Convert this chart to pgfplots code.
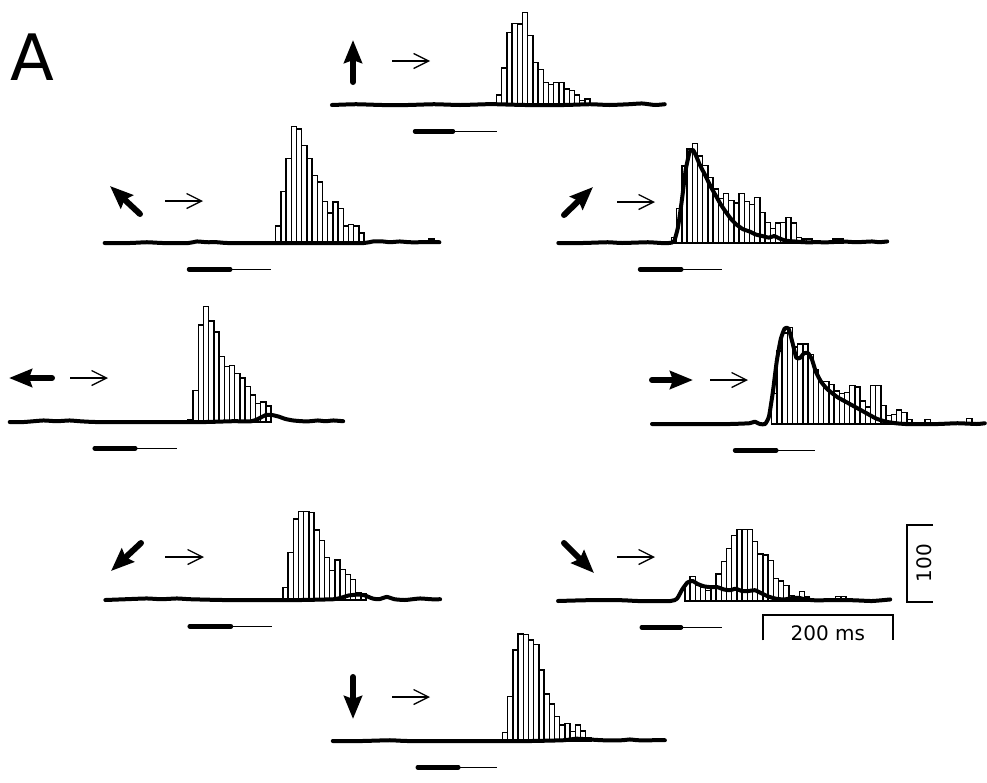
\documentclass[border=0pt]{standalone}
\usepackage{pgfplots}
\pgfplotsset{compat=1.18}
\usepackage{fontspec}
\setmainfont{DejaVu Sans}
\usetikzlibrary{arrows.meta}
\pgfplotsset{
  panel/.style={
    x=0.65pt, y=0.77pt,
    xmin=0, xmax=512, ymin=0, ymax=160,
    enlargelimits=false,
    hide axis, clip=false,
    anchor=south west,
  },
  bars/.style={ybar interval, fill=white, draw=black, line width=1.4pt},
  trace/.style={black, line width=4pt, line join=round, line cap=round, smooth, tension=0.3, no markers},
  stimA/.style={black, line width=4.8pt, line cap=round, no markers},
  stimB/.style={black, line width=1.3pt, no markers},
}
\tikzset{
  dirarrow/.style={line width=6pt, line cap=round, -{Stealth[length=23pt,width=18pt,inset=3pt]}},
  motarrow/.style={line width=1.3pt, -{Straight Barb[length=15pt,width=15pt,line width=1.3pt]}},
}
\begin{document}
\begin{tikzpicture}
\useasboundingbox (0,0) rectangle (987pt,-782pt);

% ---------- Panel 1 (up) ----------
\begin{axis}[panel, at={(330pt,-105pt)}]
\addplot[bars] coordinates {(256,13)(264,48)(272,94)(280,106)(288,105)(296,120)(304,90)(312,55)(320,46)(328,29)(336,27)(344,29)(352,29)(360,21)(368,19)(376,13)(384,6)(392,8)(400,0)};
\addplot[trace] coordinates {(3,0)(40,1)(80,0)(120,0)(160,1)(200,0)(240,1)(256,1)(300,0)(360,0)(400,1)(430,0)(460,1)(480,2)(500,0)(515,1)};
\addplot[stimA] coordinates {(131,-34)(189,-34)};
\addplot[stimB] coordinates {(189,-34)(257,-34)};
\end{axis}

% ---------- Panel 2 (up-left) ----------
\begin{axis}[panel, at={(104pt,-243pt)}]
\addplot[bars] coordinates {(264,22)(272,67)(280,110)(288,151)(296,148)(304,127)(312,110)(320,88)(328,79)(336,54)(344,39)(352,53)(360,45)(368,22)(376,24)(384,22)(392,13)(400,0)};
\addplot[bars] coordinates {(500,5)(508,0)};
\addplot[trace] coordinates {(1,0)(40,0)(66,1)(90,0)(130,0)(143,2)(158,1)(174,1)(190,0)(250,0)(300,0)(350,0)(400,0)(414,2)(429,2)(440,1)(455,2)(470,1)(490,1)(516,1)};
\addplot[stimA] coordinates {(131,-34)(194,-34)};
\addplot[stimB] coordinates {(194,-34)(257,-34)};
\end{axis}

% ---------- Panel 3 (up-right) ----------
\begin{axis}[panel, at={(557pt,-243pt)}]
\addplot[bars] coordinates {(176,7)(184,45)(192,100)(200,122)(208,129)(216,113)(224,101)(232,85)(240,70)(248,58)(256,64)(264,55)(272,52)(280,64)(288,54)(296,50)(304,59)(312,40)(320,27)(328,19)(336,26)(344,27)(352,33)(360,26)(368,7)(376,5)(384,5)(392,0)};
\addplot[bars] coordinates {(424,5)(432,5)(440,0)};
\addplot[trace] coordinates {(2,0)(40,0)(78,1)(100,0)(140,1)(160,0)(172,0)(180,2)(186,20)(192,55)(198,95)(204,118)(209,121)(214,113)(220,101)(228,88)(236,74)(244,62)(252,50)(260,40)(268,31)(276,24)(286,18)(296,15)(306,11)(316,9)(326,7)(334,9)(342,6)(352,3)(366,2)(380,1)(400,1)(420,1)(440,2)(460,1)(485,2)(495,1)(508,2)};
\addplot[stimA] coordinates {(128,-34)(191,-34)};
\addplot[stimB] coordinates {(191,-34)(254,-34)};
\end{axis}

% ---------- Panel 4 (left) ----------
\begin{axis}[panel, at={(11pt,-422pt)}]
\addplot[bars] coordinates {(272,3)(280,41)(288,126)(296,150)(304,131)(312,117)(320,85)(328,72)(336,73)(344,63)(352,57)(360,46)(368,35)(376,24)(384,26)(392,21)(400,0)};
\addplot[trace] coordinates {(-2,0)(20,0)(50,2)(70,1)(90,2)(106,1)(130,0)(200,0)(260,0)(300,0)(340,1)(370,1)(380,4)(392,9)(402,9)(412,7)(422,4)(434,2)(448,1)(460,1)(472,2)(484,1)(496,2)(511,1)};
\addplot[stimA] coordinates {(129,-34)(191,-34)};
\addplot[stimB] coordinates {(191,-34)(255,-34)};
\end{axis}

% ---------- Panel 5 (right) ----------
\begin{axis}[panel, at={(652pt,-424pt)}]
\addplot[bars] coordinates {(184,40)(192,95)(200,118)(208,125)(216,100)(224,104)(232,104)(240,90)(248,70)(256,55)(264,55)(272,51)(280,43)(288,40)(296,41)(304,50)(312,48)(320,30)(328,22)(336,50)(344,50)(352,24)(360,11)(368,12)(376,18)(384,15)(392,6)(400,0)};
\addplot[bars] coordinates {(420,6)(428,0)};
\addplot[bars] coordinates {(484,7)(492,0)};
\addplot[trace] coordinates {(0,0)(40,0)(80,0)(120,0)(150,1)(158,3)(166,0)(174,0)(180,10)(186,42)(192,82)(198,110)(204,124)(210,124)(216,106)(222,86)(228,86)(234,92)(240,92)(246,84)(252,68)(260,55)(270,45)(285,35)(300,28)(315,21)(330,14)(345,7)(360,3)(375,1)(390,0)(410,0)(440,0)(470,1)(500,0)(512,1)};
\addplot[stimA] coordinates {(128,-34)(191,-34)};
\addplot[stimB] coordinates {(191,-34)(251,-34)};
\end{axis}

% ---------- Panel 6 (down-left) ----------
\begin{axis}[panel, at={(106pt,-600pt)}]
\addplot[bars] coordinates {(272,16)(280,62)(288,105)(296,115)(304,115)(312,114)(320,91)(328,77)(336,55)(344,38)(352,52)(360,40)(368,33)(376,27)(384,10)(392,8)(400,0)};
\addplot[trace] coordinates {(-1,0)(30,1)(63,2)(85,1)(109,2)(130,1)(180,0)(250,0)(300,0)(350,1)(362,3)(374,6)(388,7)(398,6)(410,2)(420,1)(432,4)(444,1)(460,0)(483,2)(500,1)(514,1)};
\addplot[stimA] coordinates {(129,-34)(192,-34)};
\addplot[stimB] coordinates {(192,-34)(255,-34)};
\end{axis}

% ---------- Panel 7 (down-right) with scale bars ----------
\begin{axis}[panel, at={(560pt,-601pt)}]
\addplot[bars] coordinates {(192,23)(200,32)(208,20)(216,18)(224,14)(232,18)(240,35)(248,51)(256,68)(264,85)(272,93)(280,93)(288,93)(296,77)(304,61)(312,60)(320,53)(328,29)(336,26)(344,20)(352,7)(360,6)(368,12)(376,5)(384,0)};
\addplot[bars] coordinates {(424,6)(432,6)(440,0)};
\addplot[trace] coordinates {(-3,0)(40,1)(95,1)(120,0)(170,0)(180,3)(188,15)(196,24)(204,26)(212,22)(222,19)(232,18)(242,18)(252,15)(262,14)(270,16)(280,13)(290,13)(300,14)(310,10)(320,6)(332,3)(345,2)(358,4)(368,4)(378,2)(390,1)(410,1)(450,1)(480,0)(508,2)};
\addplot[stimA] coordinates {(126,-34)(186,-34)};
\addplot[stimB] coordinates {(186,-34)(249,-34)};
% scale bars: 200 ms horizontal, 100 (spikes/s) vertical
\addplot[black, line width=2pt, no markers] coordinates {(312,-51)(312,-18)(512,-18)(512,-51)};
\addplot[black, line width=2pt, no markers] coordinates {(574,99)(534,99)(534,-1)(574,-1)};
\node[font=\fontsize{20}{20}\selectfont, inner sep=0pt] at (axis cs:412,-42) {200 ms};
\node[font=\fontsize{20}{20}\selectfont, inner sep=0pt, rotate=90] at (axis cs:561,49) {100};
\end{axis}

% ---------- Panel 8 (down) ----------
\begin{axis}[panel, at={(336pt,-741pt)}]
\addplot[bars] coordinates {(256,11)(264,58)(272,118)(280,139)(288,138)(296,131)(304,125)(312,92)(320,61)(328,48)(336,32)(344,21)(352,23)(360,12)(368,21)(376,13)(384,4)(392,0)};
\addplot[trace] coordinates {(-5,0)(40,0)(83,1)(110,0)(200,0)(256,0)(300,0)(350,1)(370,3)(390,2)(410,1)(440,1)(452,2)(465,1)(490,1)(506,1)};
\addplot[stimA] coordinates {(126,-34)(188,-34)};
\addplot[stimB] coordinates {(188,-34)(248,-34)};
\end{axis}

% ---------- direction arrows (thick) ----------
\draw[dirarrow] (353pt,-82pt) -- (353pt,-40pt);
\draw[dirarrow] (140pt,-214pt) -- (110pt,-186pt);
\draw[dirarrow] (564pt,-215pt) -- (593pt,-187pt);
\draw[dirarrow] (52pt,-378pt) -- (9pt,-378pt);
\draw[dirarrow] (652pt,-380pt) -- (693pt,-380pt);
\draw[dirarrow] (141pt,-543pt) -- (111pt,-571pt);
\draw[dirarrow] (564pt,-543pt) -- (594pt,-573pt);
\draw[dirarrow] (353pt,-677pt) -- (353pt,-719pt);
% ---------- motion arrows (thin) ----------
\draw[motarrow] (392pt,-61pt) -- (430pt,-61pt);
\draw[motarrow] (165pt,-201pt) -- (203pt,-201pt);
\draw[motarrow] (617pt,-202pt) -- (655pt,-202pt);
\draw[motarrow] (70pt,-378pt) -- (108pt,-378pt);
\draw[motarrow] (710pt,-380pt) -- (748pt,-380pt);
\draw[motarrow] (165pt,-557pt) -- (204pt,-557pt);
\draw[motarrow] (617pt,-557pt) -- (655pt,-557pt);
\draw[motarrow] (392pt,-697pt) -- (430pt,-697pt);

\node[font=\fontsize{64}{64}\selectfont, inner sep=0pt] at (32pt,-57pt) {A};
\end{tikzpicture}
\end{document}
